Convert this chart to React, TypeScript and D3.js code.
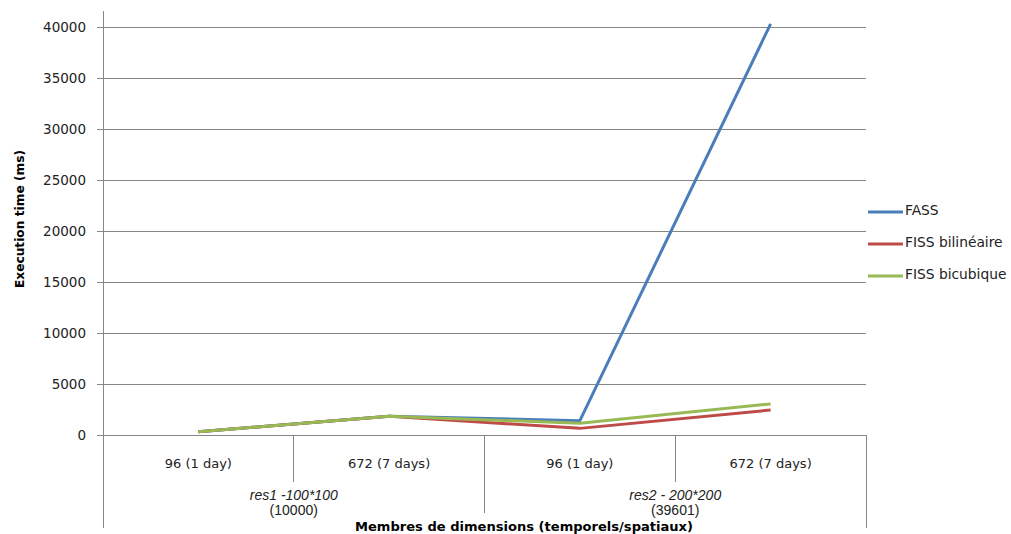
import React from "react";
import * as d3 from "d3";

const categories = ["96 (1 day)", "672 (7 days)", "96 (1 day)", "672 (7 days)"];
const groupLabels = [
  ["res1 -100*100", "(10000)"],
  ["res2 - 200*200", "(39601)"],
];
const seriesNames = ["FASS", "FISS bilinéaire", "FISS bicubique"];
const fass = [320, 1850, 1400, 40300];
const fissBilin = [320, 1850, 650, 2450];
const fissBicub = [320, 1850, 1150, 3050];
const yTicks = [0, 5000, 10000, 15000, 20000, 25000, 30000, 35000, 40000];
const colors = ["#4a7ebb", "#be4b48", "#98b954"];

export default function App() {
  const W = 1011, H = 534;
  const left = 103, right = 866, top = 27, bottom = 435;
  const x = d3.scaleBand<number>().domain(d3.range(categories.length)).range([left, right]).padding(0);
  const y = d3.scaleLinear().domain([0, 40000]).range([bottom, top]);
  const series = [fass, fissBilin, fissBicub];
  const line = d3.line<number>().x((_, i) => (x(i) as number) + x.bandwidth() / 2).y((d) => y(d));
  const font = "'DejaVu Sans', Verdana, sans-serif";
  const arial = "'Liberation Sans', Arial, sans-serif";
  const grid = "#868686";
  const bw = x.bandwidth();
  return (
    <div style={{ position: "absolute", left: 0, top: 0 }}>
      <svg width={W} height={H} style={{ display: "block", background: "#fff" }}>
        {yTicks.map((t) => (
          <g key={t}>
            <line x1={left} x2={right} y1={y(t)} y2={y(t)} stroke={grid} strokeWidth={1} shapeRendering="crispEdges" />
            <line x1={left - 6} x2={left} y1={y(t)} y2={y(t)} stroke={grid} strokeWidth={1} shapeRendering="crispEdges" />
            <text x={86} y={y(t)} dy="0.36em" textAnchor="end" fontFamily={font} fontSize={13.5} fill="#222">{t}</text>
          </g>
        ))}
        <line x1={left} x2={left} y1={11} y2={528} stroke={grid} strokeWidth={1} shapeRendering="crispEdges" />
        <line x1={right} x2={right} y1={bottom} y2={528} stroke={grid} strokeWidth={1} shapeRendering="crispEdges" />
        {[1, 3].map((i) => (
          <line key={i} x1={x(i)} x2={x(i)} y1={bottom} y2={482} stroke={grid} strokeWidth={1} shapeRendering="crispEdges" />
        ))}
        <line x1={x(2)} x2={x(2)} y1={bottom} y2={513} stroke={grid} strokeWidth={1} shapeRendering="crispEdges" />
        {categories.map((c, i) => (
          <text key={i} x={(x(i) as number) + bw / 2} y={468} textAnchor="middle" fontFamily={font} fontSize={13} fill="#222">{c}</text>
        ))}
        {groupLabels.map((g, gi) => {
          const cx = (x(gi * 2) as number) + bw;
          return (
            <g key={gi}>
              <text x={cx} y={500} textAnchor="middle" fontFamily={arial} fontStyle="italic" fontSize={14} fill="#222">{g[0]}</text>
              <text x={cx} y={515} textAnchor="middle" fontFamily={arial} fontSize={14} fill="#222">{g[1]}</text>
            </g>
          );
        })}
        <text x={524} y={531} textAnchor="middle" fontFamily={font} fontWeight="bold" fontSize={12.5} fill="#000" textLength={338} lengthAdjust="spacingAndGlyphs">Membres de dimensions  (temporels/spatiaux)</text>
        <text transform={`translate(24,219) rotate(-90)`} textAnchor="middle" fontFamily={font} fontWeight="bold" fontSize={12.5} fill="#000" textLength={138} lengthAdjust="spacingAndGlyphs">Execution time (ms)</text>
        {series.map((s, i) => (
          <path key={i} d={line(s) || ""} fill="none" stroke={colors[i]} strokeWidth={3} strokeLinejoin="round" />
        ))}
        {seriesNames.map((n, i) => {
          const ly = 212 + i * 32;
          return (
            <g key={n}>
              <line x1={868} x2={903} y1={ly} y2={ly} stroke={colors[i]} strokeWidth={3} />
              <text x={905} y={ly + 3} fontFamily={font} fontSize={13.8} fill="#222">{n}</text>
            </g>
          );
        })}
      </svg>
    </div>
  );
}
